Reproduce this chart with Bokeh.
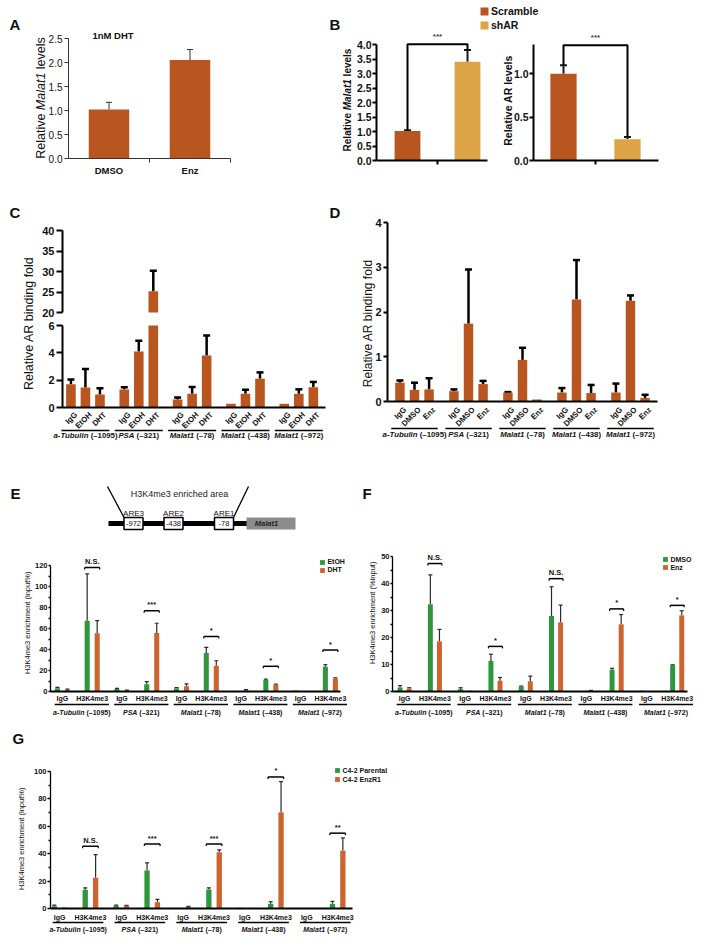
import math
from bokeh.plotting import figure
from bokeh.models import (Range1d, FixedTicker, PrintfTickFormatter, Legend, LegendItem,
                          Whisker, TeeHead, ColumnDataSource, LinearAxis, Grid)
from bokeh.embed import file_html
from bokeh.resources import INLINE
from bokeh.core.properties import value

FONT = "Liberation Sans"
RUST = "#B9551E"
GOLD = "#DDA446"
GREEN = "#2F963E"
ORANGE = "#CD642D"
INK = "#111111"

# ------------------------------------------------------------------ data
a_conditions = ["DMSO", "Enz"]
a_malat1 = [1.02, 2.05]
a_malat1_sem = [0.15, 0.22]
a_yticks = [0.0, 0.5, 1.0, 1.5, 2.0, 2.5]
a_title = "1nM DHT"

b_conditions = ["Scramble", "shAR"]
b_malat1 = [1.02, 3.42]
b_malat1_sem = [0.03, 0.40]
b_ar = [1.00, 0.245]
b_ar_sem = [0.10, 0.025]
b_malat1_yticks = [0.0, 0.5, 1.0, 1.5, 2.0, 2.5, 3.0, 3.5, 4.0]
b_ar_yticks = [0.0, 0.5, 1.0]
b_sig = "***"
b_malat1_sig_level = 4.02
b_ar_sig_level = 1.33

loci_gene = ["a-Tubulin", "PSA", "Malat1", "Malat1", "Malat1"]
loci_site = ["(\u20131095)", "(\u2013321)", "(\u201378)", "(\u2013438)", "(\u2013972)"]

c_conditions = ["IgG", "EtOH", "DHT"]
c_igg = [1.70, 1.31, 0.58, 0.27, 0.27]
c_igg_sem = [0.34, 0.17, 0.15, 0.0, 0.0]
c_etoh = [1.46, 4.10, 1.00, 1.00, 1.00]
c_etoh_sem = [1.36, 0.78, 0.50, 0.29, 0.33]
c_dht = [0.95, 25.2, 3.81, 2.11, 1.48]
c_dht_sem = [0.46, 5.0, 1.46, 0.46, 0.39]
c_low_yticks = [0, 2, 4, 6]
c_high_yticks = [20, 25, 30, 35, 40]

d_conditions = ["IgG", "DMSO", "Enz"]
d_igg = [0.42, 0.23, 0.20, 0.20, 0.20]
d_igg_sem = [0.05, 0.04, 0.01, 0.10, 0.20]
d_dmso = [0.26, 1.74, 0.93, 2.28, 2.25]
d_dmso_sem = [0.16, 1.21, 0.27, 0.88, 0.12]
d_enz = [0.27, 0.39, 0.045, 0.19, 0.08]
d_enz_sem = [0.25, 0.07, 0.0, 0.18, 0.07]
d_yticks = [0, 1, 2, 3, 4]

ylabel_ar = "Relative AR binding fold"
chip_sites = ["IgG", "H3K4me3"]

e_series = ["EtOH", "DHT"]
e_etoh_igg = [3.0, 2.5, 3.0, 0.5, 0.8]
e_etoh_igg_sem = [1.0, 0.5, 0.8, 0.0, 0.0]
e_dht_igg = [1.5, 1.0, 5.0, 1.5, 0.0]
e_dht_igg_sem = [0.8, 0.4, 2.2, 0.4, 0.0]
e_etoh_h3 = [67.5, 7.0, 36.6, 11.0, 23.6]
e_etoh_h3_sem = [44.5, 2.5, 5.4, 0.8, 1.9]
e_dht_h3 = [55.4, 55.7, 24.5, 6.4, 12.4]
e_dht_h3_sem = [12.1, 9.3, 4.8, 0.6, 0.6]
e_sig = ["N.S.", "***", "*", "*", "*"]
e_sig_level = [118, 77, 52.5, 24, 39.5]
e_yticks = [0, 20, 40, 60, 80, 100, 120]
e_ylabel = "H3K4me3 enrichment (input%)"
e_diagram_title = "H3K4me3 enriched area"
e_are_names = ["ARE3", "ARE2", "ARE1"]
e_are_sites = ["-972", "-438", "-78"]
e_gene = "Malat1"

f_series = ["DMSO", "Enz"]
f_dmso_igg = [1.5, 0.9, 1.9, 0.2, 0.3]
f_dmso_igg_sem = [0.7, 0.5, 0.1, 0.0, 0.0]
f_enz_igg = [1.1, 0.3, 3.8, 0.3, 0.0]
f_enz_igg_sem = [0.3, 0.0, 1.9, 0.1, 0.0]
f_dmso_h3 = [32.3, 11.3, 28.0, 8.1, 9.8]
f_dmso_h3_sem = [10.9, 2.5, 10.8, 0.5, 0.1]
f_enz_h3 = [18.6, 4.0, 25.6, 24.9, 28.2]
f_enz_h3_sem = [4.4, 1.2, 6.4, 3.6, 1.7]
f_sig = ["N.S.", "*", "N.S.", "*", "*"]
f_sig_level = [47.4, 16.7, 41.8, 30.6, 31.9]
f_yticks = [0, 10, 20, 30, 40, 50]
f_ylabel = "H3K4me3 enrichment (%input)"

g_series = ["C4-2 Parental", "C4-2 EnzR1"]
g_par_igg = [1.7, 2.0, 0.0, 0.5, 0.0]
g_par_igg_sem = [0.8, 0.5, 0.0, 0.0, 0.0]
g_enz_igg = [0.8, 2.0, 1.2, 0.0, 0.0]
g_enz_igg_sem = [0.0, 0.3, 0.3, 0.0, 0.0]
g_par_h3 = [13.6, 27.7, 13.9, 3.4, 3.4]
g_par_h3_sem = [1.5, 5.6, 1.2, 1.5, 1.8]
g_enz_h3 = [22.4, 4.6, 41.1, 70.2, 42.3]
g_enz_h3_sem = [16.9, 2.0, 1.7, 22.4, 9.2]
g_sig = ["N.S.", "***", "***", "*", "**"]
g_sig_level = [45.4, 47, 47, 96, 55]
g_yticks = [0, 20, 40, 60, 80, 100]
g_ylabel = "H3K4me3 enrichment (input%)"

# ------------------------------------------------------------------ canvas
W, H = 698, 935
p = figure(width=W, height=H, x_range=Range1d(0, W), y_range=Range1d(0, H),
           x_axis_location=None, y_axis_location=None, toolbar_location=None,
           output_backend="svg", min_border=0)
p.outline_line_color = None
p.background_fill_color = "white"
p.border_fill_color = "white"
for gr in p.select(type=Grid):
    gr.visible = False
XR, YR, PPX, PPY = {}, {}, {}, {}


def Y(iy):
    return H - iy


def add_panel(name, xs, xe, L, R, ys, ye, B, T):
    ppx = (R - L) / (xe - xs)
    XR[name] = Range1d(xs - L / ppx, xe + (W - R) / ppx)
    ppy = (B - T) / (ye - ys)
    YR[name] = Range1d(ys - (H - B) / ppy, ye + T / ppy)
    PPX[name], PPY[name] = ppx, ppy


REG = {' ': 278, 'R': 722, 'e': 556, 'l': 222, 'a': 556, 't': 278, 'i': 222, 'v': 500,
       'M': 833, '1': 556, 's': 500, 'A': 667}
BOLD = {' ': 278, 'R': 722, 'e': 556, 'l': 278, 'a': 556, 't': 333, 'i': 278, 'v': 556,
        'M': 833, '1': 556, 's': 556, 'A': 722, '-': 333, 'T': 611, 'u': 611, 'b': 611,
        'n': 611, 'P': 667, 'S': 667, '(': 333, ')': 333, '\u2013': 556}


def tw(s, size, bold):
    tb = BOLD if bold else REG
    return sum(tb.get(ch, 556) for ch in s) * size / 1000.0


def txt(xs, ys, texts, size, style="normal", align="left", baseline="alphabetic", angle=0.0,
        color=INK, xr="default", yr="default"):
    p.text(x=xs, y=ys, text=texts, angle=angle, x_range_name=xr, y_range_name=yr,
           text_font=value(FONT), text_font_size=value(f"{size}px"), text_font_style=style,
           text_align=align, text_baseline=baseline, text_color=color)


def vtext(pieces, cx, cy, size, bold):
    """rotated (bottom-to-top) label made of pieces (text, italic), centred at image (cx, cy)"""
    total = sum(tw(t, size, bold) for t, _ in pieces)
    y = Y(cy) - total / 2.0
    for t, it in pieces:
        style = " ".join(s for s in (("bold" if bold else ""), ("italic" if it else "")) if s) or "normal"
        txt([cx], [y], [t], size, style=style, align="left", baseline="middle", angle=math.pi / 2)
        y += tw(t, size, bold)


def letter(ch, x, y):
    txt([x], [Y(y)], [ch], 15, style="bold")


def style_axis(ax, size=7.5, bold=True, tick_out=3, standoff=2, lw=1.5, color="black"):
    ax.axis_line_color = color
    ax.axis_line_width = lw
    ax.major_tick_line_color = color
    ax.major_tick_line_width = lw
    ax.minor_tick_line_color = color
    ax.minor_tick_line_width = lw
    ax.major_tick_out = int(tick_out)
    ax.major_tick_in = 0
    ax.minor_tick_out = 0
    ax.minor_tick_in = 0
    ax.major_label_standoff = int(standoff)
    ax.major_label_text_font = FONT
    ax.major_label_text_font_size = f"{size}px"
    ax.major_label_text_font_style = "bold" if bold else "normal"
    ax.major_label_text_color = INK


def y_axis(name, loc, ticks, bounds, size, bold=True, tick_out=3, standoff=2, lw=1.5,
           color="black", fmt=None, minor=None, minor_out=2):
    ax = LinearAxis(x_range_name=name, y_range_name=name, fixed_location=loc, bounds=bounds,
                    ticker=FixedTicker(ticks=ticks, minor_ticks=minor or []))
    if fmt:
        ax.formatter = PrintfTickFormatter(format=fmt)
    style_axis(ax, size, bold, tick_out, standoff, lw, color)
    if minor:
        ax.minor_tick_out = minor_out
    p.add_layout(ax, "left")


def x_axis(name, loc, bounds, lw, color="black", ticks=None, labels=None, minor=None,
           minor_out=4, size=9.5, standoff=5):
    ax = LinearAxis(x_range_name=name, y_range_name=name, fixed_location=loc, bounds=bounds,
                    ticker=FixedTicker(ticks=ticks or [], minor_ticks=minor or []))
    style_axis(ax, size, True, 0, standoff, lw, color)
    if labels:
        ax.major_label_overrides = labels
    if minor:
        ax.minor_tick_out = minor_out
    p.add_layout(ax, "below")


def vbars(name, xs, tops, width, color, bottoms=None):
    kw = dict(x=xs, top=tops, width=width, fill_color=color, line_color=None,
              x_range_name=name, y_range_name=name)
    if bottoms is not None:
        kw["bottom"] = bottoms
    return p.vbar(**kw)


def whiskers(name, xs, tops, sems, color, lw, head, keep=None):
    pts = [(x, t, t + s) for x, t, s in zip(xs, tops, sems)
           if s > 0 and (keep is None or keep(t, t + s))]
    if not pts:
        return
    src = ColumnDataSource(dict(base=[q[0] for q in pts], lower=[q[1] for q in pts],
                                upper=[q[2] for q in pts]))
    p.add_layout(Whisker(source=src, base="base", lower="lower", upper="upper",
                         dimension="height", line_color=color, line_width=lw,
                         lower_head=None, x_range_name=name, y_range_name=name,
                         upper_head=TeeHead(size=head, line_color=color, line_width=lw)))


def legend(items, x, y_bottom, glyph, label_h, spacing, size):
    p.add_layout(Legend(items=[LegendItem(label=t, renderers=[r]) for t, r in items],
                        location=(x, Y(y_bottom)), glyph_width=glyph, glyph_height=glyph,
                        label_height=label_h, label_width=10, spacing=spacing, padding=0,
                        margin=0, label_standoff=2, border_line_color=None,
                        background_fill_alpha=0, label_text_font=FONT,
                        label_text_font_size=f"{size}px", label_text_font_style="bold",
                        label_text_color=INK))


def group_labels(name, centers, iy, size):
    ppx = PPX[name]
    xa, xb = [], []
    for c, g, st in zip(centers, loci_gene, loci_site):
        wn, ws, wst = tw(g, size, True), tw(" ", size, True), tw(st, size, True)
        a = c + (-(wn + ws + wst) / 2.0 + wn) / ppx
        xa.append(a)
        xb.append(a + ws / ppx)
    txt(xa, [Y(iy)] * len(xa), loci_gene, size, style="bold italic", align="right",
        baseline="middle", xr=name)
    txt(xb, [Y(iy)] * len(xb), loci_site, size, style="bold", align="left",
        baseline="middle", xr=name)


def underlines(name, x0, x1, iy, lw=1.3):
    p.segment(x0=x0, x1=x1, y0=[Y(iy)] * len(x0), y1=[Y(iy)] * len(x0), line_color="black",
              line_width=lw, x_range_name=name)


# ------------------------------------------------------------------ Panel A
add_panel("A", -0.5, 1.5, 68, 230, 0, 2.5, 158, 38)
a_x = list(range(len(a_conditions)))
vbars("A", a_x, a_malat1, 0.5, RUST)
whiskers("A", a_x, a_malat1, a_malat1_sem, "#333333", 1, 6)
y_axis("A", -0.5, a_yticks, (0, max(a_yticks)), 10, bold=False, tick_out=4, standoff=2, lw=1,
       color="#333333", fmt="%.1f")
x_axis("A", 0, (-0.5, 1.5), 1, color="#333333", ticks=a_x,
       labels={i: t for i, t in zip(a_x, a_conditions)}, minor=[i + 0.5 for i in a_x],
       size=9.5, standoff=2)
txt([112.5], [Y(35)], [a_title], 9.5, style="bold", align="center", baseline="middle")
vtext([("Relative ", False), ("Malat1 ", True), ("levels", False)], 40, 97.5, 12.5, False)
letter("A", 9, 24)

# ------------------------------------------------------------------ Panel B
b_x = list(range(len(b_conditions)))
b_colors = [RUST, GOLD]
XR_lim = {"B1": (-31 / 60.0, 80 / 60.0), "B2": (-30 / 64.0, 95 / 64.0)}


def b_panel(name, vals, sems, yticks, bound, level, bw):
    r = [vbars(name, [x], [v], bw, c) for x, v, c in zip(b_x, vals, b_colors)]
    whiskers(name, b_x, vals, sems, "#1a1a1a", 2, 7)
    ups = [v + s for v, s in zip(vals, sems)]
    p.line(x=[b_x[0], b_x[0], b_x[1], b_x[1]], y=[ups[0], level, level, ups[1]],
           line_color="black", line_width=2, x_range_name=name, y_range_name=name)
    txt([0.5 * (b_x[0] + b_x[1])], [level + 3.0 / PPY[name]], [b_sig], 8, style="bold",
        align="center", baseline="bottom", color="#444444", xr=name, yr=name)
    y_axis(name, XR_lim[name][0], yticks, (0, bound), 10.5, tick_out=4, standoff=1, lw=2,
           fmt="%.1f")
    x_axis(name, 0, XR_lim[name], 2, ticks=[], minor=[0.5 * (b_x[0] + b_x[1])], minor_out=4)
    return r


add_panel("B1", XR_lim["B1"][0], XR_lim["B1"][1], 376, 487, 0, 4.0, 160, 44.4)
add_panel("B2", XR_lim["B2"][0], XR_lim["B2"][1], 533, 658, 0, 1.0, 160, 73.3)
rb = b_panel("B1", b_malat1, b_malat1_sem, b_malat1_yticks, max(b_malat1_yticks),
             b_malat1_sig_level, 0.43)
b_panel("B2", b_ar, b_ar_sem, b_ar_yticks, 1.34, b_ar_sig_level, 0.41)
vtext([("Relative ", False), ("Malat1 ", True), ("levels", False)], 347, 99.5, 10, True)
vtext([("Relative AR levels", False)], 507, 100, 10.5, True)
legend(list(zip(b_conditions, rb)), 479, 31, 10, 10, 2, 10.5)
letter("B", 329, 24)

# ------------------------------------------------------------------ Panels C and D
C_XS, C_XE = -0.43, 4.50
add_panel("Clo", C_XS, C_XE, 62, 325, 0, 6, 407, 325)
add_panel("Chi", C_XS, C_XE, 62, 325, 20, 40, 312, 230)
groups = list(range(len(loci_gene)))
c_series = [(c_igg, c_igg_sem), (c_etoh, c_etoh_sem), (c_dht, c_dht_sem)]
lo_max, hi_min = max(c_low_yticks), min(c_high_yticks)
for k, (vals, sems) in enumerate(c_series):
    xs = [i + (k - 1) * 0.272 for i in groups]
    vbars("Clo", xs, [min(v, lo_max) for v in vals], 0.18, RUST)
    whiskers("Clo", xs, vals, sems, "black", 2.5, 7, lambda lo, hi: hi <= lo_max)
    hx = [x for x, v in zip(xs, vals) if v > hi_min]
    hv = [v for v in vals if v > hi_min]
    if hx:
        vbars("Chi", hx, hv, 0.18, RUST, bottoms=[hi_min] * len(hx))
    whiskers("Chi", xs, vals, sems, "black", 2.5, 7, lambda lo, hi: lo >= hi_min)
y_axis("Clo", C_XS, c_low_yticks, (0, lo_max), 11, tick_out=6, standoff=2, lw=2)
y_axis("Chi", C_XS, c_high_yticks, (hi_min, max(c_high_yticks)), 11, tick_out=6, standoff=2, lw=2)
x_axis("Clo", 0, (C_XS, C_XE), 2)
vtext([(ylabel_ar, False)], 28, 321, 12.5, False)
letter("C", 9, 212)

D_XS, D_XE = -0.5, 4.5
add_panel("D", D_XS, D_XE, 387, 657, 0, 4, 401, 222)
d_series = [(d_igg, d_igg_sem), (d_dmso, d_dmso_sem), (d_enz, d_enz_sem)]
for k, (vals, sems) in enumerate(d_series):
    xs = [i + (k - 1) * 0.27 for i in groups]
    vbars("D", xs, vals, 0.175, RUST)
    whiskers("D", xs, vals, sems, "black", 2.5, 7)
y_axis("D", D_XS, d_yticks, (0, max(d_yticks)), 11, tick_out=4, standoff=2, lw=2)
x_axis("D", 0, (D_XS, D_XE), 2)
vtext([(ylabel_ar, False)], 367, 321, 12, False)
letter("D", 329, 212)


def cond_strip(name, conds, dx, y_anchor, y_line, y_group, half):
    ppx = PPX[name]
    lx, lt = [], []
    for k, cnd in enumerate(conds):
        for i in groups:
            lx.append(i + (k - 1) * dx + 5.0 / ppx)
            lt.append(cnd)
    txt(lx, [Y(y_anchor)] * len(lx), lt, 7.8, style="bold", align="right", baseline="middle",
        angle=math.pi / 4, xr=name)
    underlines(name, [i - half for i in groups], [i + half for i in groups], y_line)
    group_labels(name, groups, y_group, 7.8)


cond_strip("Clo", c_conditions, 0.272, 413, 430, 435, 0.45)
cond_strip("D", d_conditions, 0.27, 408, 428, 434, 0.43)

# ------------------------------------------------------------------ E diagram (schematic)
letter("E", 10, 493)
txt([179], [Y(493)], [e_diagram_title], 9, align="center", baseline="middle", color="#222222")
p.segment(x0=[107, 248], y0=[Y(486)] * 2, x1=[123.5, 233], y1=[Y(517)] * 2,
          line_color="black", line_width=1.3)
p.segment(x0=[108], y0=[Y(523)], x1=[247], y1=[Y(523)], line_color="black", line_width=5)
p.rect(x=[270.5], y=[Y(523)], width=49, height=12, fill_color="#8c8c8c", line_color=None)
txt([266], [Y(523)], [e_gene], 7.5, style="bold italic", align="center", baseline="middle",
    color="#222222")
e_box_x = [133, 173, 223.5]
p.rect(x=e_box_x, y=[Y(523)] * 3, width=19, height=12, fill_color="white", line_color="black",
       line_width=1.5)
txt(e_box_x, [Y(523)] * 3, e_are_sites, 7.5, align="center", baseline="middle")
txt(e_box_x, [Y(513)] * 3, e_are_names, 8, align="center", baseline="middle")


# ------------------------------------------------------------------ ChIP panels E/F/G
def chip_panel(name, series, igg, igg_sem, h3, h3_sem, sig, sig_level, yticks, minor, dx, bw,
               tick_out, standoff, leg_xy, leg_lh, leg_sp, strip_ys, line_span):
    ppy = PPY[name]
    site_off = [0.0, 0.5]
    n = len(loci_gene)
    rends = []
    for k, col in enumerate([GREEN, ORANGE]):
        sgn = -1 if k == 0 else 1
        bx, bt, bs = [], [], []
        for i in range(n):
            for j, (vals, errs) in enumerate(((igg[k], igg_sem[k]), (h3[k], h3_sem[k]))):
                bx.append(i + site_off[j] + sgn * dx)
                bt.append(vals[i])
                bs.append(errs[i])
        rends.append(vbars(name, bx, bt, bw, col))
        whiskers(name, bx, bt, bs, "#2a2a2a", 1.2, 4)
    cx = [i + site_off[1] for i in range(n)]
    half = dx + bw / 2.0
    leg = 2.0 / ppy
    p.segment(x0=[c - half for c in cx], x1=[c + half for c in cx], y0=sig_level, y1=sig_level,
              line_color="black", line_width=1.5, x_range_name=name, y_range_name=name)
    p.segment(x0=[c - half for c in cx] + [c + half for c in cx],
              x1=[c - half for c in cx] + [c + half for c in cx],
              y0=list(sig_level) * 2, y1=[l - leg for l in sig_level] * 2,
              line_color="black", line_width=1.2, x_range_name=name, y_range_name=name)
    txt(cx, [l + 1.5 / ppy for l in sig_level], sig, 7.5, style="bold", align="center",
        baseline="bottom", xr=name, yr=name)
    xs, xe = XR_lim[name]
    y_axis(name, xs, yticks, (0, max(yticks)), 7.5, tick_out=tick_out, standoff=standoff,
           lw=1.3, minor=minor, minor_out=2)
    x_axis(name, 0, (xs, xe), 2)
    legend(list(zip(series, rends)), leg_xy[0], leg_xy[1], 6, leg_lh, leg_sp, 7)
    # labels below the axis
    lx = [i + off for i in range(n) for off in site_off]
    lt = [site for i in range(n) for site in chip_sites]
    txt(lx, [Y(strip_ys[0])] * len(lx), lt, 7, style="bold", align="center", baseline="middle",
        xr=name)
    underlines(name, [i + line_span[0] for i in range(n)], [i + line_span[1] for i in range(n)],
               strip_ys[1])
    group_labels(name, [i + 0.5 * (line_span[0] + line_span[1]) for i in range(n)],
                 strip_ys[2], 7)


XR_lim["E"] = (-0.2, 4.67)
XR_lim["F"] = (-0.2, 4.67)
XR_lim["G"] = (-0.146, 4.74)
add_panel("E", XR_lim["E"][0], XR_lim["E"][1], 50, 340, 0, 120, 691, 565)
add_panel("F", XR_lim["F"][0], XR_lim["F"][1], 392, 687, 0, 50, 691, 556)
add_panel("G", XR_lim["G"][0], XR_lim["G"][1], 50, 352, 0, 100, 908, 771)

chip_panel("E", e_series, [e_etoh_igg, e_dht_igg], [e_etoh_igg_sem, e_dht_igg_sem],
           [e_etoh_h3, e_dht_h3], [e_etoh_h3_sem, e_dht_h3_sem], e_sig, e_sig_level,
           e_yticks, [t + 10 for t in e_yticks[:-1]], 0.084, 0.085, 2, 1, (319.4, 573), 7, 1,
           (698, 704, 712), (-0.13, 0.78))
vtext([(e_ylabel, False)], 27, 624, 7.5, False)

chip_panel("F", f_series, [f_dmso_igg, f_enz_igg], [f_dmso_igg_sem, f_enz_igg_sem],
           [f_dmso_h3, f_enz_h3], [f_dmso_h3_sem, f_enz_h3_sem], f_sig, f_sig_level,
           f_yticks, [t + 5 for t in f_yticks[:-1]], 0.075, 0.082, 2, 1, (662.4, 570.5), 6, 1,
           (698, 704, 712), (-0.13, 0.76))
vtext([(f_ylabel, False)], 372, 614, 7.5, False)
letter("F", 362, 493)

chip_panel("G", g_series, [g_par_igg, g_enz_igg], [g_par_igg_sem, g_enz_igg_sem],
           [g_par_h3, g_enz_h3], [g_par_h3_sem, g_enz_h3_sem], g_sig, g_sig_level,
           g_yticks, [t + 10 for t in g_yticks[:-1]], 0.084, 0.086, 3, 1, (334.4, 782.5), 7, 2,
           (917, 922, 929), (-0.11, 0.71))
vtext([(g_ylabel, False)], 20.7, 840, 7.5, False)
letter("G", 12, 738)

p.extra_x_ranges = XR
p.extra_y_ranges = YR

open("out.html", "w").write(file_html(p, INLINE))
